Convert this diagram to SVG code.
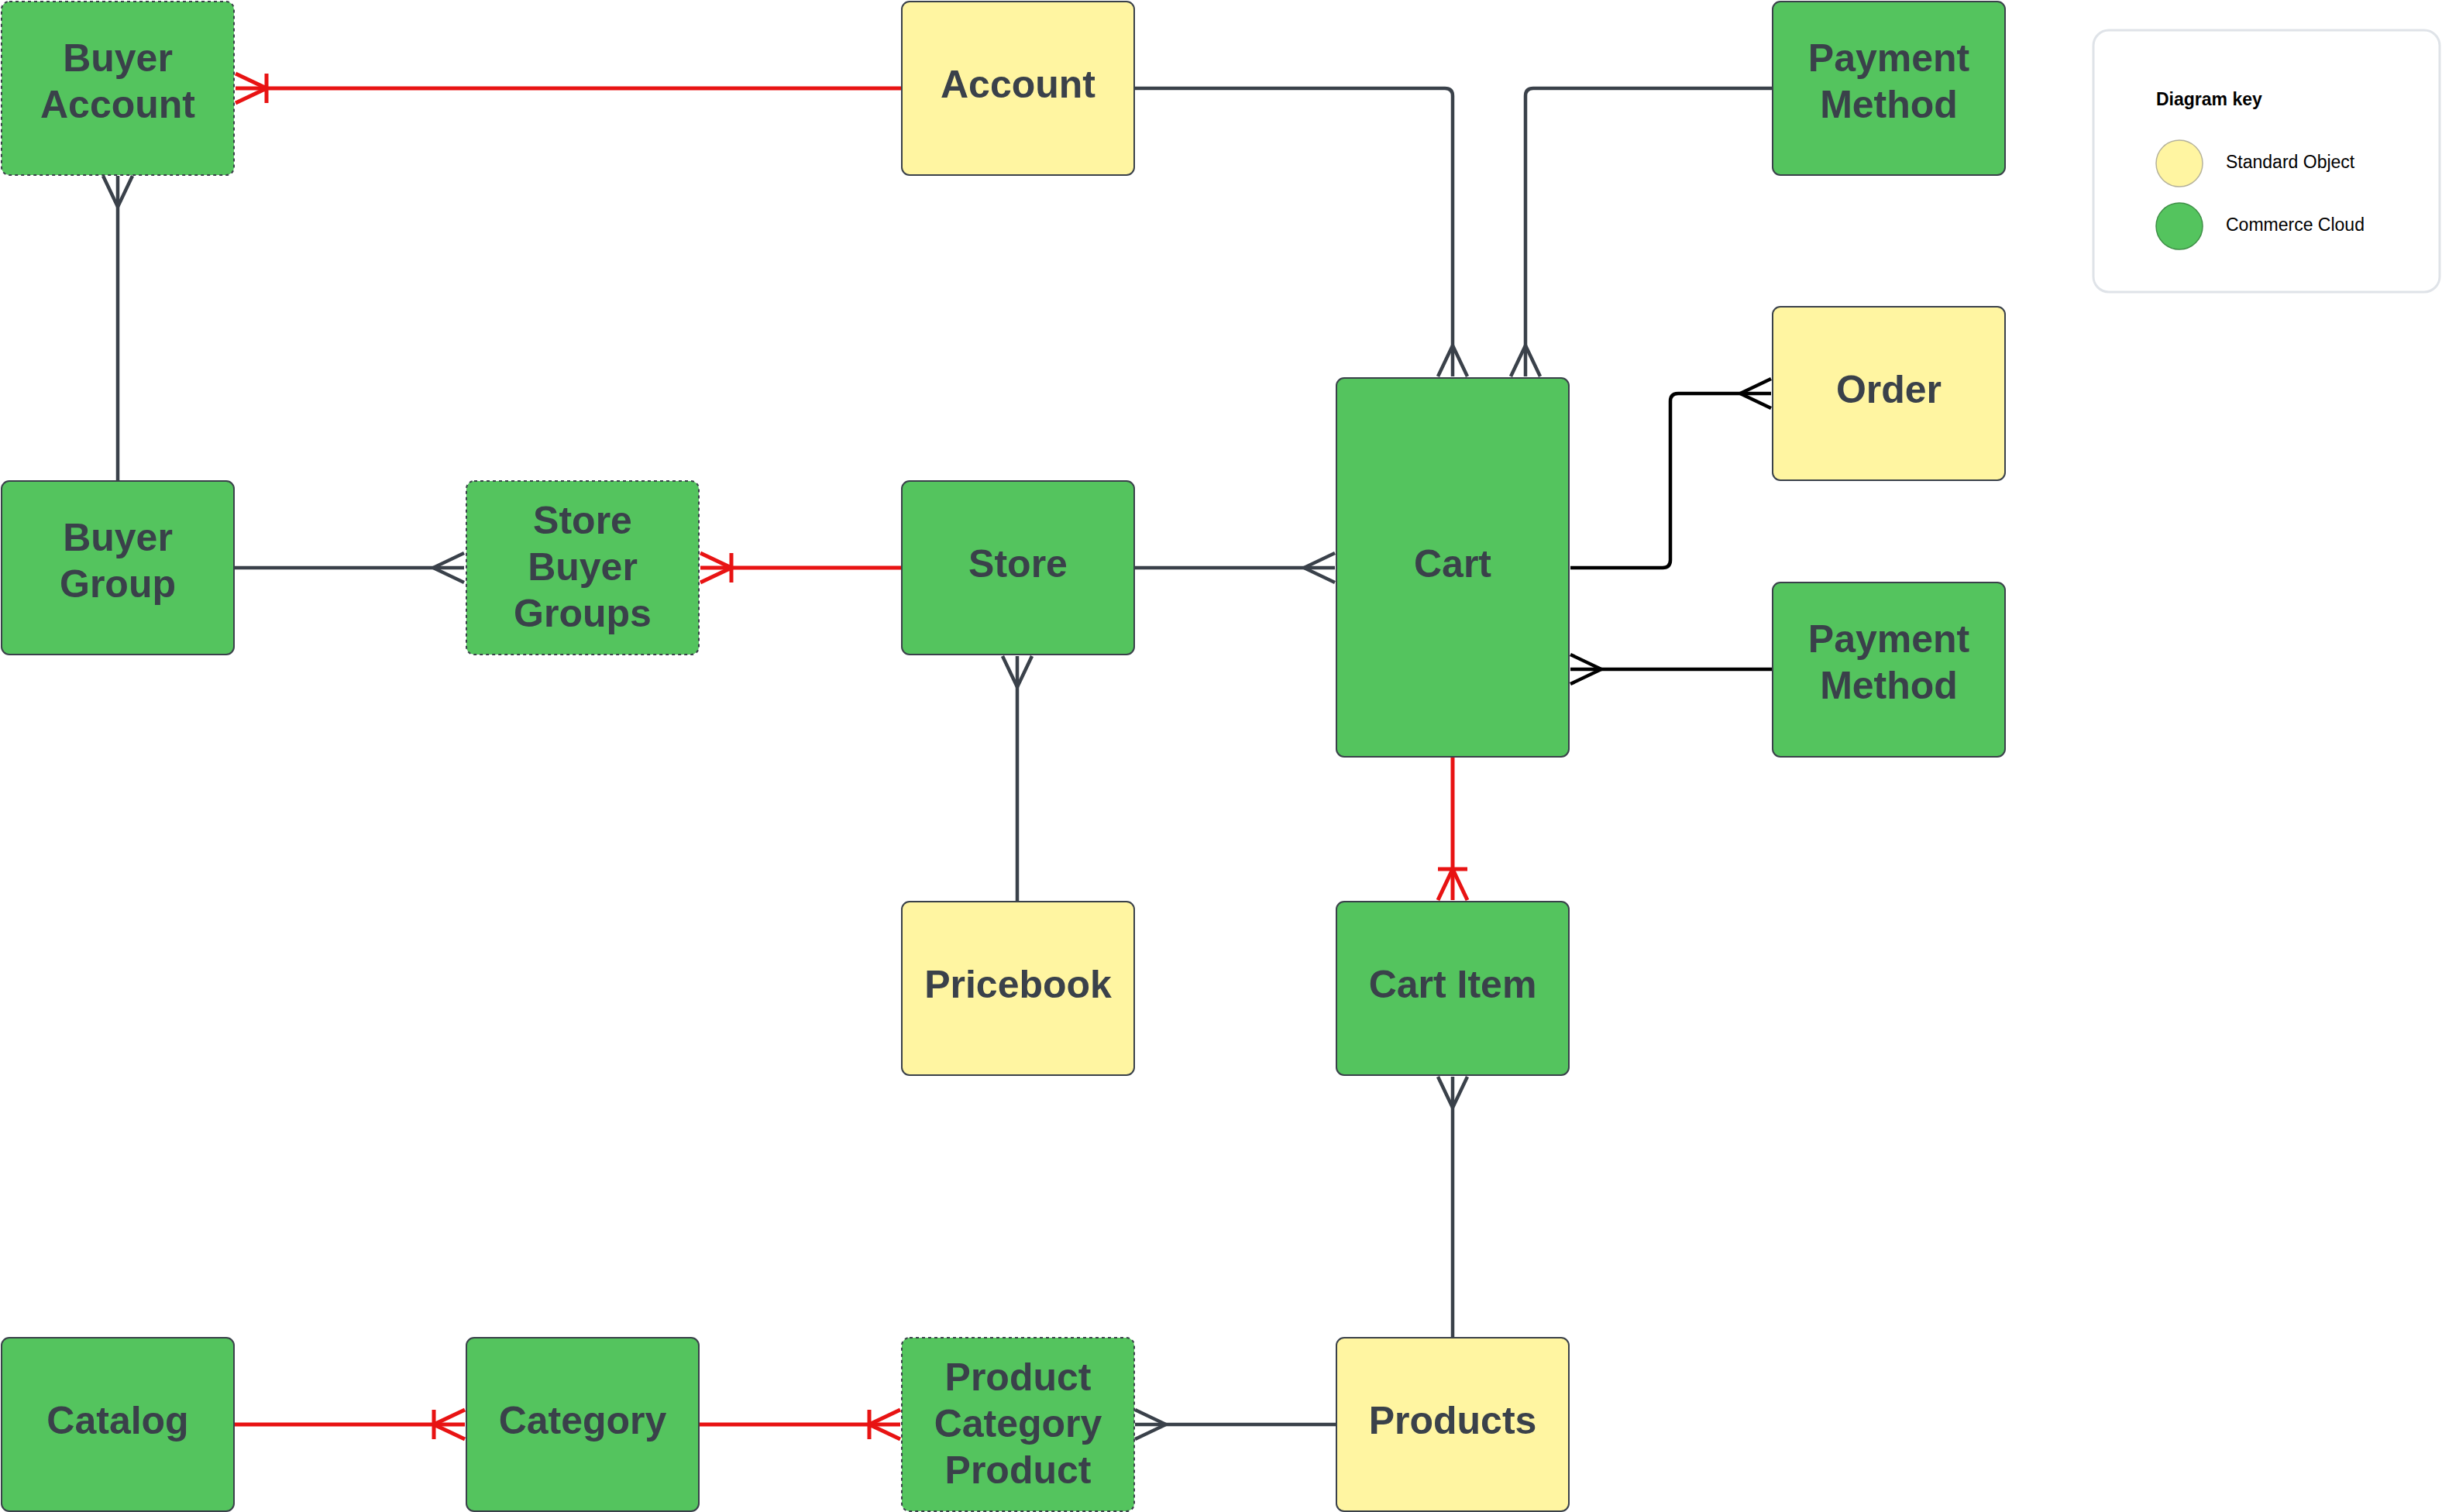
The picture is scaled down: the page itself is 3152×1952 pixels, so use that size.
<svg xmlns="http://www.w3.org/2000/svg" width="3152" height="1952" viewBox="0 0 3152 1952">
<style>
.node rect{stroke:#3A414A;stroke-width:2}
.g rect{fill:#54C45E}
.y rect{fill:#FFF5A1}
.dash rect{stroke-dasharray:4 4}
.node text{font-family:"Liberation Sans",Arial,sans-serif;font-weight:bold;font-size:50px;fill:#3A414A;text-anchor:middle}
.c{fill:none;stroke-width:4.5}
.gray{stroke:#3A414A}
.blk{stroke:#000000}
.red{stroke:#E81313;stroke-width:5}
.legend text{font-family:"Liberation Sans",Arial,sans-serif;font-size:23px;fill:#000}
</style>
<defs>
<marker id="mGray" markerUnits="userSpaceOnUse" viewBox="-45 -25 50 50" refX="0" refY="0" markerWidth="50" markerHeight="50" orient="auto">
<path d="M0,-19 L-40,0 L0,19" fill="none" stroke="#3A414A" stroke-width="4.5"/>
</marker>
<marker id="mBlk" markerUnits="userSpaceOnUse" viewBox="-45 -25 50 50" refX="0" refY="0" markerWidth="50" markerHeight="50" orient="auto">
<path d="M0,-19 L-40,0 L0,19" fill="none" stroke="#000000" stroke-width="4.5"/>
</marker>
<marker id="mRed" markerUnits="userSpaceOnUse" viewBox="-45 -25 50 50" refX="0" refY="0" markerWidth="50" markerHeight="50" orient="auto">
<path d="M0,-19 L-40,0 L0,19 M-40,-19 L-40,19" fill="none" stroke="#E81313" stroke-width="5"/>
</marker>
</defs>

<g id="connectors">
<path class="c red" d="M1164,114 H304" marker-end="url(#mRed)"/>
<path class="c gray" d="M1464,114 H1865 Q1875,114 1875,124 V486" marker-end="url(#mGray)"/>
<path class="c gray" d="M2288,114 H1979 Q1969,114 1969,124 V486" marker-end="url(#mGray)"/>
<path class="c blk" d="M2027,733 H2146 Q2156,733 2156,723 V518 Q2156,508 2166,508 H2286" marker-end="url(#mBlk)"/>
<path class="c blk" d="M2288,864 H2027" marker-end="url(#mBlk)"/>
<path class="c gray" d="M1464,733 H1723" marker-end="url(#mGray)"/>
<path class="c red" d="M1164,733 H904" marker-end="url(#mRed)"/>
<path class="c gray" d="M302,733 H599" marker-end="url(#mGray)"/>
<path class="c gray" d="M152,621 V227" marker-end="url(#mGray)"/>
<path class="c gray" d="M1313,1164 V847" marker-end="url(#mGray)"/>
<path class="c red" d="M1875,978 V1162" marker-end="url(#mRed)"/>
<path class="c gray" d="M1875,1727 V1390" marker-end="url(#mGray)"/>
<path class="c red" d="M302,1839 H600" marker-end="url(#mRed)"/>
<path class="c red" d="M902,1839 H1162" marker-end="url(#mRed)"/>
<path class="c gray" d="M1725,1839 H1465" marker-end="url(#mGray)"/>
</g>

<g id="buyer-account" class="node g dash"><rect x="2" y="2" width="300" height="224" rx="10"/><text x="152" y="92">Buyer</text><text x="152" y="152">Account</text></g>
<g id="account" class="node y"><rect x="1164" y="2" width="300" height="224" rx="10"/><text x="1314" y="126">Account</text></g>
<g id="payment-method-1" class="node g"><rect x="2288" y="2" width="300" height="224" rx="10"/><text x="2438" y="92">Payment</text><text x="2438" y="152">Method</text></g>
<g id="order" class="node y"><rect x="2288" y="396" width="300" height="224" rx="10"/><text x="2438" y="520">Order</text></g>
<g id="cart" class="node g"><rect x="1725" y="488" width="300" height="489" rx="10"/><text x="1875" y="745">Cart</text></g>
<g id="payment-method-2" class="node g"><rect x="2288" y="752" width="300" height="225" rx="10"/><text x="2438" y="842">Payment</text><text x="2438" y="902">Method</text></g>
<g id="buyer-group" class="node g"><rect x="2" y="621" width="300" height="224" rx="10"/><text x="152" y="711">Buyer</text><text x="152" y="771">Group</text></g>
<g id="store-buyer-groups" class="node g dash"><rect x="602" y="621" width="300" height="224" rx="10"/><text x="752" y="689">Store</text><text x="752" y="749">Buyer</text><text x="752" y="809">Groups</text></g>
<g id="store" class="node g"><rect x="1164" y="621" width="300" height="224" rx="10"/><text x="1314" y="745">Store</text></g>
<g id="pricebook" class="node y"><rect x="1164" y="1164" width="300" height="224" rx="10"/><text x="1314" y="1288">Pricebook</text></g>
<g id="cart-item" class="node g"><rect x="1725" y="1164" width="300" height="224" rx="10"/><text x="1875" y="1288">Cart Item</text></g>
<g id="catalog" class="node g"><rect x="2" y="1727" width="300" height="224" rx="10"/><text x="152" y="1851">Catalog</text></g>
<g id="category" class="node g"><rect x="602" y="1727" width="300" height="224" rx="10"/><text x="752" y="1851">Category</text></g>
<g id="product-category-product" class="node g dash"><rect x="1164" y="1727" width="300" height="224" rx="10"/><text x="1314" y="1795">Product</text><text x="1314" y="1855">Category</text><text x="1314" y="1915">Product</text></g>
<g id="products" class="node y"><rect x="1725" y="1727" width="300" height="224" rx="10"/><text x="1875" y="1851">Products</text></g>

<g id="legend" class="legend">
<rect x="2702" y="39" width="447" height="338" rx="20" fill="#FFFFFF" stroke="#DFE3E8" stroke-width="3"/>
<text x="2783" y="136" font-weight="bold">Diagram key</text>
<circle cx="2813" cy="211" r="30" fill="#FFF5A1" stroke="#B5B29A" stroke-width="1.5"/>
<text x="2873" y="217">Standard Object</text>
<circle cx="2813" cy="292" r="30" fill="#54C45E" stroke="#3F8F47" stroke-width="1.5"/>
<text x="2873" y="298">Commerce Cloud</text>
</g>
</svg>
